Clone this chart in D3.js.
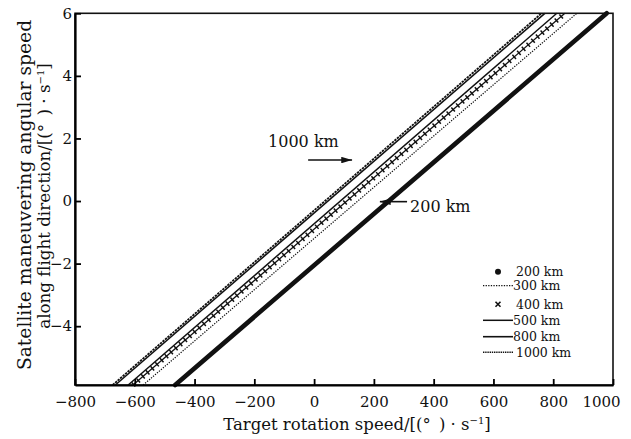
<!DOCTYPE html>
<html>
<head>
<meta charset="utf-8">
<script src="https://cdn.jsdelivr.net/npm/d3@7"></script>
<style>
  body { margin: 0; background: #fff; }
  text { font-family: "DejaVu Serif", serif; fill: #111; }
</style>
</head>
<body>
<div id="chart"></div>
<script>
// data
var altitudes = ["200 km", "300 km", "400 km", "500 km", "800 km", "1000 km"];
// target rotation speed where each line leaves the bottom / top of the plot
var speedAtBottom = [-465, -572, -606, -622, -665, -674];
var speedAtTop = [979, 879, 839, 812, 772, 761];
var angularRange = [-5.88, 6];
var xTicks = [-800, -600, -400, -200, 0, 200, 400, 600, 800, 1000];
var yTicks = [-4, -2, 0, 2, 4, 6];

var width = 631, height = 439;
var margin = { top: 13.3, right: 18, bottom: 54, left: 75 };

var svg = d3.select("#chart")
    .append("svg")
    .attr("width", width)
    .attr("height", height);

var x = d3.scaleLinear()
    .domain([-800, 1000])
    .range([margin.left, width - margin.right]);

var y = d3.scaleLinear()
    .domain(angularRange)
    .range([height - margin.bottom, margin.top]);

// line styles per altitude
var styles = {
    "200 km": { w: 4.6, dash: null, cap: "round" },
    "300 km": { w: 1.2, dash: "1.3,1.3" },
    "400 km": { w: 1.3, dash: null, ticks: true },
    "500 km": { w: 1.5, dash: null },
    "800 km": { w: 1.6, dash: null },
    "1000 km": { w: 1.8, dash: "2.4,0.9" }
};

var series = altitudes.map(function (a, i) {
    return { name: a, pts: [[speedAtBottom[i], angularRange[0]], [speedAtTop[i], angularRange[1]]] };
});

var line = d3.line()
    .x(function (d) { return x(d[0]); })
    .y(function (d) { return y(d[1]); });

var g = svg.append("g");

series.forEach(function (s) {
    var st = styles[s.name];
    g.append("path")
        .attr("d", line(s.pts))
        .attr("fill", "none")
        .attr("stroke", "#111")
        .attr("stroke-width", st.w)
        .attr("stroke-linecap", st.cap || "butt")
        .attr("stroke-dasharray", st.dash);
    if (st.ticks) {
        // x markers show as short cross bars along the line
        g.append("path")
            .attr("d", line(s.pts))
            .attr("fill", "none")
            .attr("stroke", "#111")
            .attr("stroke-width", 5.5)
            .attr("stroke-dasharray", "1.5,4.7");
    }
});

// frame
svg.append("rect")
    .attr("x", margin.left)
    .attr("y", margin.top)
    .attr("width", width - margin.right - margin.left)
    .attr("height", height - margin.bottom - margin.top)
    .attr("fill", "none")
    .attr("stroke", "#111")
    .attr("stroke-width", 1.6);

var fmt = d3.format("d");

// X axis, ticks inside
var xAxis = svg.append("g")
    .attr("transform", "translate(0," + (height - margin.bottom) + ")")
    .call(d3.axisBottom(x).tickValues(xTicks).tickFormat(fmt)
        .tickSizeInner(-6).tickSizeOuter(0).tickPadding(11));
xAxis.select(".domain").attr("stroke-width", 2.2);
xAxis.selectAll(".tick line").attr("stroke-width", 1.8);
xAxis.selectAll(".tick text").style("font-size", "15px").style("font-family", "DejaVu Serif");
// last label sits pulled in from the corner
xAxis.selectAll(".tick text").filter(function (d) { return d === 1000; }).attr("dx", -12);

// Y axis
var yAxis = svg.append("g")
    .attr("transform", "translate(" + margin.left + ",0)")
    .call(d3.axisLeft(y).tickValues(yTicks).tickFormat(fmt)
        .tickSizeInner(-6).tickSizeOuter(0).tickPadding(3));
yAxis.select(".domain").attr("stroke-width", 2.2);
yAxis.selectAll(".tick line").attr("stroke-width", 1.8);
yAxis.selectAll(".tick text").style("font-size", "15px").style("font-family", "DejaVu Serif");

// X axis title
var xt = svg.append("text")
    .attr("x", 357)
    .attr("y", 430)
    .attr("text-anchor", "middle")
    .style("font-size", "16.5px")
    .style("white-space", "pre");
xt.append("tspan").text("Target rotation speed/[(°\u2002) \u00b7 s");
xt.append("tspan").attr("dy", -6).style("font-size", "10px").text("\u22121");
xt.append("tspan").attr("dy", 6).text("]");

// Y axis title, two lines
svg.append("text")
    .attr("transform", "translate(31,195) rotate(-90)")
    .attr("text-anchor", "middle")
    .style("font-size", "18.7px")
    .text("Satellite maneuvering angular speed");

var yt2 = svg.append("text")
    .attr("transform", "translate(50,196) rotate(-90)")
    .attr("text-anchor", "middle")
    .style("font-size", "16.7px")
    .style("white-space", "pre");
yt2.append("tspan").text("along flight direction/[(°\u2002) \u00b7 s");
yt2.append("tspan").attr("dy", -6).style("font-size", "10px").text("\u22121");
yt2.append("tspan").attr("dy", 6).text("]");

// annotations
var defs = svg.append("defs");
defs.append("marker")
    .attr("id", "head")
    .attr("viewBox", "0 0 10 6")
    .attr("refX", 10).attr("refY", 3)
    .attr("markerUnits", "userSpaceOnUse")
    .attr("markerWidth", 11).attr("markerHeight", 6.5)
    .attr("orient", "auto")
    .append("path").attr("d", "M0,0L10,3L0,6Z").attr("fill", "#111");

svg.append("text")
    .attr("x", x(-154)).attr("y", y(1.74))
    .style("font-size", "16px")
    .text("1000 km");
svg.append("line")
    .attr("x1", x(-20)).attr("y1", y(1.31))
    .attr("x2", x(127)).attr("y2", y(1.31))
    .attr("stroke", "#111").attr("stroke-width", 1.6)
    .attr("marker-end", "url(#head)");

svg.append("text")
    .attr("x", x(321)).attr("y", y(-0.34))
    .style("font-size", "16px")
    .text("200 km");
svg.append("line")
    .attr("x1", x(311)).attr("y1", y(-0.02))
    .attr("x2", x(220)).attr("y2", y(-0.02))
    .attr("stroke", "#111").attr("stroke-width", 1.6)
    .attr("marker-end", "url(#head)");

// legend
var legendRows = [0, 14, 32.6, 48.6, 65, 80.6];
var legend = svg.append("g").attr("transform", "translate(483,271.7)");
altitudes.forEach(function (a, i) {
    var st = styles[a];
    var row = legend.append("g").attr("transform", "translate(0," + legendRows[i] + ")");
    if (a === "200 km") {
        row.append("circle").attr("cx", 15).attr("cy", 0).attr("r", 3).attr("fill", "#111");
    } else if (a === "400 km") {
        row.append("path").attr("d", "M12.5,-2.5L17.5,2.5M12.5,2.5L17.5,-2.5")
            .attr("stroke", "#111").attr("stroke-width", 1.6);
    } else {
        row.append("line")
            .attr("x1", 0).attr("x2", 30)
            .attr("stroke", "#111")
            .attr("stroke-width", a === "1000 km" ? 1.4 : st.w)
            .attr("stroke-dasharray", a === "1000 km" ? "1.4,0.8" : st.dash);
    }
    row.append("text")
        .attr("x", (a === "200 km" || a === "400 km" || a === "1000 km") ? 33 : 30)
        .attr("y", 4.5)
        .style("font-size", "12.5px")
        .text(a);
});
</script>
</body>
</html>
